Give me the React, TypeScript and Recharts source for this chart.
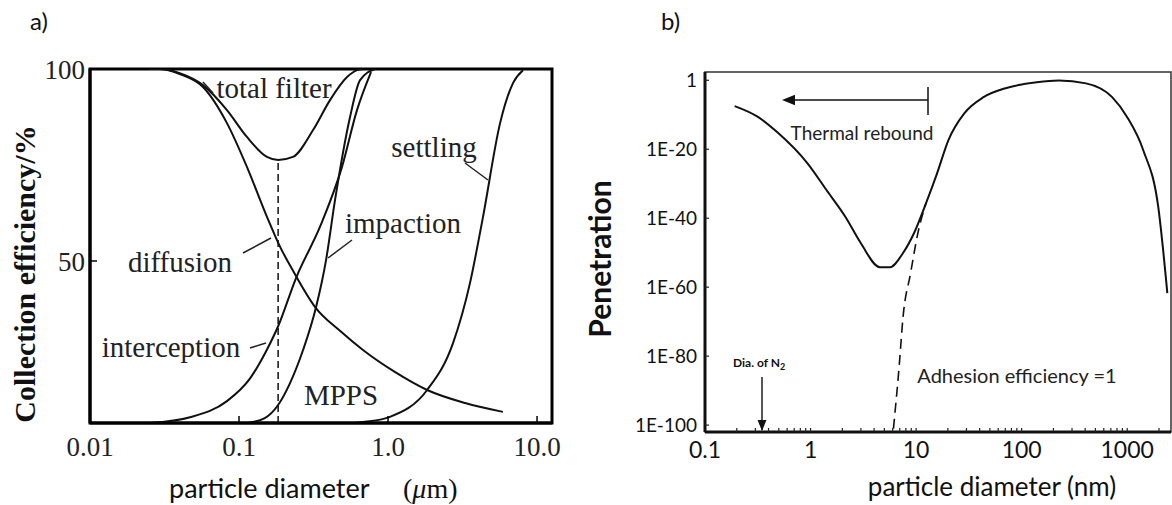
import React from 'react';
import { LineChart, Line, XAxis, YAxis, ReferenceArea, ReferenceLine } from 'recharts';

// ---------- Panel a: collection efficiency (%) vs particle diameter (µm) ----------
const aXTicks = [0.01, 0.1, 1, 10];
const aXTickLabels = ['0.01', '0.1', '1.0', '10.0'];
const aYTicks = [50, 100];

const diffusionD = [0.025, 0.0295, 0.04, 0.0573, 0.083, 0.113, 0.154, 0.188, 0.23, 0.324, 0.476, 0.679, 1.11, 1.83, 3.29, 5.9];
const diffusionE = [100, 100, 98.7, 95.3, 85.9, 74.5, 61.5, 53.8, 47.5, 38.0, 31.8, 26.8, 21.1, 16.4, 13.0, 10.7];

const totalD = [0.025, 0.0295, 0.04, 0.0573, 0.083, 0.113, 0.154, 0.183, 0.23, 0.314, 0.408, 0.531, 0.62, 0.68];
const totalE = [100, 100, 98.9, 95.8, 89.3, 82.3, 77.1, 76.3, 77.1, 84.1, 91.9, 97.9, 99.7, 100];

const interceptionD = [0.0253, 0.0469, 0.083, 0.119, 0.152, 0.183, 0.241, 0.355, 0.491, 0.619, 0.769];
const interceptionE = [7.8, 9.3, 13.5, 19.5, 26.5, 33.0, 45.5, 59.5, 74.5, 89.3, 99.2];

const impactionD = [0.113, 0.149, 0.183, 0.22, 0.269, 0.329, 0.384, 0.441, 0.556, 0.649, 0.818];
const impactionE = [7.8, 9.1, 12.5, 18.2, 26.8, 38.0, 50.3, 65.9, 87.5, 97.1, 100];

const settlingD = [0.6, 0.7, 1.03, 1.83, 2.73, 3.55, 4.34, 5.65, 6.91, 8.05];
const settlingE = [7.8, 8.1, 9.4, 16.4, 28.6, 44.3, 61.5, 85.9, 96.4, 99.7];

const mppsD = 0.183;
const mppsE = 76.3;

// ---------- Panel b: penetration vs particle diameter (nm) ----------
const bXTicks = [
  0.1, 0.2, 0.3, 0.4, 0.5, 0.6, 0.7, 0.8, 0.9,
  1, 2, 3, 4, 5, 6, 7, 8, 9,
  10, 20, 30, 40, 50, 60, 70, 80, 90,
  100, 200, 300, 400, 500, 600, 700, 800, 900,
  1000, 2000,
];
const bYTickExp = [-100, -80, -60, -40, -20, 0];

const penSizeNm = [0.191, 0.32, 0.485, 0.936, 1.42, 2.15, 2.99, 4.54, 5.65, 7.52, 9.57, 12.4, 15.8, 20.2, 28.6, 43.5, 70.4, 139, 225, 407, 720, 1000, 1420, 1970, 2400];
const penExp = [-7.5, -10.7, -15.1, -24.1, -31.9, -39.7, -47.2, -54.2, -54.2, -50.1, -44.3, -35.7, -27.0, -17.4, -9.6, -4.9, -2.3, -0.6, -0.1, -0.9, -4.9, -10.7, -20.3, -36.8, -61.7];

const adhesionSizeNm = [6.1, 6.9, 7.52, 8.87, 10.4, 12.4];
const adhesionExp = [-101, -83.2, -68.7, -55.9, -44.3, -35.7];

// ---------- helpers ----------
const pts = (xs: number[], ys: number[]) => xs.map((x, i) => ({ x, y: ys[i] }));
const ptsExp = (xs: number[], es: number[]) => xs.map((x, i) => ({ x, y: Math.pow(10, es[i]) }));

const A_X_DOMAIN: [number, number] = [0.01, 12.6];
const A_Y_DOMAIN: [number, number] = [7.8, 100];
const B_X_DOMAIN: [number, number] = [0.1, 2600];
const B_Y_DOMAIN: [number, number] = [1e-102, 251];

const SERIF = '"Liberation Serif", "Times New Roman", serif';
const SANS = 'Lato, "Open Sans", sans-serif';

const isDecade = (v: number) => Math.abs(Math.log10(v) - Math.round(Math.log10(v))) < 1e-9;

function PanelA() {
  const curve = (name: string, data: { x: number; y: number }[]) => (
    <Line
      key={name}
      name={name}
      data={data}
      dataKey="y"
      type="monotone"
      stroke="#111"
      strokeWidth={2}
      dot={false}
      isAnimationActive={false}
    />
  );
  return (
    <LineChart width={580} height={505} margin={{ top: 69, right: 28, bottom: 42, left: 30 }}>
      <XAxis
        dataKey="x"
        type="number"
        scale="log"
        domain={A_X_DOMAIN}
        allowDataOverflow
        ticks={aXTicks}
        interval={0}
        tickFormatter={(v: number) => aXTickLabels[aXTicks.indexOf(v)] ?? ''}
        height={40}
        axisLine={{ stroke: '#000', strokeWidth: 3 }}
        tickLine={{ stroke: '#000', strokeWidth: 1.5 }}
        tickSize={-7}
        tickMargin={21}
        tick={{ fontSize: 27, fontFamily: SERIF, fill: '#222' }}
      />
      <YAxis
        type="number"
        domain={A_Y_DOMAIN}
        allowDataOverflow
        ticks={aYTicks}
        interval={0}
        width={60}
        axisLine={{ stroke: '#000', strokeWidth: 3 }}
        tickLine={{ stroke: '#000', strokeWidth: 1.5 }}
        tickSize={-7}
        tickMargin={12}
        tick={{ fontSize: 27, fontFamily: SERIF, fill: '#222' }}
      />
      <ReferenceArea
        x1={A_X_DOMAIN[0]}
        x2={A_X_DOMAIN[1]}
        y1={A_Y_DOMAIN[0]}
        y2={A_Y_DOMAIN[1]}
        fill="none"
        fillOpacity={0}
        stroke="#000"
        strokeWidth={3}
        ifOverflow="visible"
      />
      <ReferenceLine
        segment={[{ x: mppsD, y: A_Y_DOMAIN[0] }, { x: mppsD, y: mppsE }]}
        stroke="#111"
        strokeWidth={1.5}
        strokeDasharray="7 4"
        ifOverflow="visible"
      />
      {curve('diffusion', pts(diffusionD, diffusionE))}
      {curve('total filter', pts(totalD, totalE))}
      {curve('interception', pts(interceptionD, interceptionE))}
      {curve('impaction', pts(impactionD, impactionE))}
      {curve('settling', pts(settlingD, settlingE))}
    </LineChart>
  );
}

function PanelB() {
  return (
    <LineChart width={592} height={505} margin={{ top: 72, right: 1, bottom: 33, left: 65 }}>
      <XAxis
        dataKey="x"
        type="number"
        scale="log"
        domain={B_X_DOMAIN}
        allowDataOverflow
        ticks={bXTicks}
        interval={0}
        tickFormatter={(v: number) => (isDecade(v) ? String(v) : '')}
        height={40}
        axisLine={{ stroke: '#111', strokeWidth: 3 }}
        tickLine={{ stroke: '#222', strokeWidth: 1.2 }}
        tickSize={-4}
        tickMargin={14}
        tick={{ fontSize: 23, fontFamily: SANS, fill: '#111' }}
      />
      <YAxis
        type="number"
        scale="log"
        domain={B_Y_DOMAIN}
        allowDataOverflow
        ticks={bYTickExp.map((e) => Math.pow(10, e))}
        interval={0}
        tickFormatter={(v: number) => {
          const e = Math.round(Math.log10(v));
          return e === 0 ? '1' : `1E${e}`;
        }}
        width={60}
        axisLine={{ stroke: '#111', strokeWidth: 3 }}
        tickLine={{ stroke: '#222', strokeWidth: 1.2 }}
        tickSize={-4}
        tickMargin={12}
        tick={{ fontSize: 19, fontFamily: SANS, fill: '#111' }}
      />
      <ReferenceArea
        x1={B_X_DOMAIN[0]}
        x2={B_X_DOMAIN[1]}
        y1={B_Y_DOMAIN[0]}
        y2={B_Y_DOMAIN[1]}
        fill="none"
        fillOpacity={0}
        stroke="#333"
        strokeWidth={1.5}
        ifOverflow="visible"
      />
      <Line
        name="Adhesion efficiency = 1"
        data={ptsExp(adhesionSizeNm, adhesionExp)}
        dataKey="y"
        type="monotone"
        stroke="#111"
        strokeWidth={1.6}
        strokeDasharray="10 6"
        dot={false}
        isAnimationActive={false}
      />
      <Line
        name="Penetration"
        data={ptsExp(penSizeNm, penExp)}
        dataKey="y"
        type="monotone"
        stroke="#111"
        strokeWidth={2}
        dot={false}
        isAnimationActive={false}
      />
    </LineChart>
  );
}

function Overlay() {
  const serifText = { fontFamily: SERIF, fontSize: 29, fill: '#222' } as const;
  return (
    <svg
      width={1172}
      height={505}
      style={{ position: 'absolute', left: 0, top: 0, pointerEvents: 'none' }}
    >
      <defs>
        <marker id="arrowL" viewBox="0 0 10 10" refX="1" refY="5" markerWidth="9" markerHeight="9" orient="auto-start-reverse">
          <path d="M0,1 L10,5 L0,9 z" fill="#111" />
        </marker>
        <marker id="arrowD" viewBox="0 0 10 10" refX="9" refY="5" markerWidth="8" markerHeight="8" orient="auto">
          <path d="M0,1 L10,5 L0,9 z" fill="#111" />
        </marker>
      </defs>

      {/* Panel a */}
      <text x={30} y={30} fontFamily={SANS} fontSize={24} fill="#111">a)</text>
      <text
        transform="translate(24,274) rotate(-90)"
        textAnchor="middle"
        dominantBaseline="central"
        fontFamily={SERIF}
        fontSize={30}
        fontWeight="bold"
        fill="#111"
      >
        Collection efficiency/%
      </text>
      <text x={169} y={498} fontFamily={SANS} fontSize={27} fill="#111">particle diameter</text>
      <text x={403} y={498} fontFamily={SERIF} fontSize={28} fill="#111">
        (<tspan fontStyle="italic">μ</tspan>m)
      </text>

      <text x={274} y={88} textAnchor="middle" dominantBaseline="central" {...serifText}>total filter</text>
      <text x={434} y={147} textAnchor="middle" dominantBaseline="central" {...serifText}>settling</text>
      <text x={403} y={223} textAnchor="middle" dominantBaseline="central" {...serifText}>impaction</text>
      <text x={180} y={262} textAnchor="middle" dominantBaseline="central" {...serifText}>diffusion</text>
      <text x={171} y={347} textAnchor="middle" dominantBaseline="central" {...serifText}>interception</text>
      <text x={341} y={395} textAnchor="middle" dominantBaseline="central" {...serifText}>MPPS</text>

      <g stroke="#222" strokeWidth={1.5}>
        <line x1={203} y1={82} x2={213} y2={93} />
        <line x1={465} y1={163} x2={488} y2={180} />
        <line x1={352} y1={240} x2={328} y2={258} />
        <line x1={243} y1={253} x2={271} y2={238} />
        <line x1={250} y1={348} x2={266} y2={343} />
      </g>

      {/* Panel b */}
      <text x={661} y={30} fontFamily={SANS} fontSize={24} fill="#111">b)</text>
      <text
        transform="translate(599,259) rotate(-90)"
        textAnchor="middle"
        dominantBaseline="central"
        fontFamily={SANS}
        fontSize={30}
        fontWeight="bold"
        fill="#111"
      >
        Penetration
      </text>
      <text x={992} y={496} textAnchor="middle" fontFamily={SANS} fontSize={26} fill="#111">particle diameter (nm)</text>

      <line x1={794} y1={100} x2={928} y2={100} stroke="#111" strokeWidth={1.5} markerStart="url(#arrowL)" />
      <line x1={928} y1={87} x2={928} y2={115} stroke="#111" strokeWidth={1.5} />
      <text x={862} y={132} textAnchor="middle" dominantBaseline="central" fontFamily={SANS} fontSize={19} fill="#222">Thermal rebound</text>

      <text x={733} y={367} fontFamily={SANS} fontSize={12} fontWeight="bold" fill="#111">
        Dia. of N<tspan dy={3} fontSize={9}>2</tspan>
      </text>
      <line x1={762} y1={377} x2={762} y2={430} stroke="#111" strokeWidth={1.4} markerEnd="url(#arrowD)" />

      <text x={1017} y={375} textAnchor="middle" dominantBaseline="central" fontFamily={SANS} fontSize={20} fill="#222">Adhesion efficiency =1</text>
    </svg>
  );
}

export default function App() {
  return (
    <div
      style={{
        position: 'absolute',
        left: 0,
        top: 0,
        width: 1172,
        height: 505,
        background: '#fff',
        overflow: 'hidden',
      }}
    >
      <div style={{ position: 'absolute', left: 0, top: 0 }}>
        <PanelA />
      </div>
      <div style={{ position: 'absolute', left: 580, top: 0 }}>
        <PanelB />
      </div>
      <Overlay />
    </div>
  );
}
